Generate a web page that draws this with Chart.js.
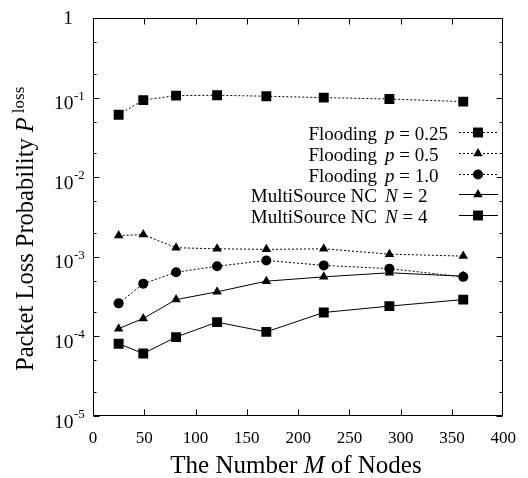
<!DOCTYPE html>
<html lang="en">
<head>
    <meta charset="UTF-8">
    <title>Packet Loss Probability</title>
    <style>
        body {
            margin: 0;
            background-color: #ffffff;
        }

        #lossChart {
            display: block;
        }
    </style>
</head>
<body>
    <canvas id="lossChart" width="528" height="478"></canvas>

    <script src="https://cdn.jsdelivr.net/npm/chart.js"></script>
    <script>
        // values
        const nodeCounts = [25, 49, 81, 121, 169, 225, 289, 361];
        const floodP025 = [0.061, 0.093, 0.106, 0.107, 0.104, 0.100, 0.096, 0.089];
        const floodP05 = [0.00185, 0.0019, 0.0013, 0.00126, 0.00124, 0.00126, 0.00108, 0.00102];
        const floodP10 = [0.00026, 0.00046, 0.00064, 0.00076, 0.0009, 0.00078, 0.00071, 0.00056];
        const multiN2 = [0.000125, 0.000168, 0.00029, 0.000363, 0.000494, 0.00056, 0.00063, 0.00057];
        const multiN4 = [0.000081, 0.000061, 0.000098, 0.000151, 0.000114, 0.0002, 0.00024, 0.00029];

        const seriesNames = ['Flooding', 'Flooding', 'Flooding', 'MultiSource NC', 'MultiSource NC'];
        const seriesSymbols = ['p', 'p', 'p', 'N', 'N'];
        const seriesParams = ['0.25', '0.5', '1.0', '2', '4'];

        const yExponents = [-5, -4, -3, -2, -1, 0];
        const yMinorFactors = [2, 5];

        const FONT = "'Liberation Serif', 'Times New Roman', serif";

        function toPoints(values) {
            return nodeCounts.map((n, i) => ({ x: n, y: values[i] }));
        }

        function makeDataset(values, style, radius, dashed) {
            return {
                data: toPoints(values),
                borderColor: '#000',
                backgroundColor: '#000',
                borderWidth: 1,
                borderDash: dashed ? [2, 2] : [],
                pointStyle: style,
                pointRadius: radius,
                pointBackgroundColor: '#000',
                pointBorderColor: '#000',
                pointBorderWidth: 0,
                tension: 0,
                fill: false
            };
        }

        const datasets = [
            makeDataset(floodP025, 'rect', 7, true),
            makeDataset(floodP05, 'triangle', 5.5, true),
            makeDataset(floodP10, 'circle', 5, true),
            makeDataset(multiN2, 'triangle', 5.5, false),
            makeDataset(multiN4, 'rect', 7, false)
        ];

        // frame, inward ticks, y labels with exponents, titles and the key
        const decorPlugin = {
            id: 'decor',
            afterDraw(chart) {
                const ctx = chart.ctx;
                const area = chart.chartArea;
                const xs = chart.scales.x;
                const ys = chart.scales.y;
                const L = Math.round(area.left) + 0.5;
                const R = Math.round(area.right) - 0.5;
                const T = Math.round(area.top) + 0.5;
                const B = Math.round(area.bottom) - 0.5;

                ctx.save();
                ctx.strokeStyle = '#000';
                ctx.lineWidth = 1;
                ctx.setLineDash([]);
                ctx.strokeRect(L, T, R - L, B - T);

                ctx.beginPath();
                xs.ticks.forEach(t => {
                    const x = Math.round(xs.getPixelForValue(t.value)) + 0.5;
                    if (x <= L + 1 || x >= R - 1) return;
                    ctx.moveTo(x, B); ctx.lineTo(x, B - 6);
                    ctx.moveTo(x, T); ctx.lineTo(x, T + 6);
                });
                yExponents.forEach(e => {
                    const y = Math.round(ys.getPixelForValue(Math.pow(10, e))) + 0.5;
                    ctx.moveTo(L, y); ctx.lineTo(L + 6, y);
                    ctx.moveTo(R, y); ctx.lineTo(R - 6, y);
                    if (e < 0) {
                        yMinorFactors.forEach(f => {
                            const ym = Math.round(ys.getPixelForValue(f * Math.pow(10, e))) + 0.5;
                            ctx.moveTo(L, ym); ctx.lineTo(L + 3, ym);
                            ctx.moveTo(R, ym); ctx.lineTo(R - 3, ym);
                        });
                    }
                });
                ctx.stroke();

                // y tick labels
                ctx.fillStyle = '#000';
                ctx.textBaseline = 'alphabetic';
                yExponents.forEach(e => {
                    const y = ys.getPixelForValue(Math.pow(10, e));
                    ctx.font = '19.5px ' + FONT;
                    ctx.textAlign = 'right';
                    if (e === 0) {
                        ctx.fillText('1', 73, y + 6);
                        return;
                    }
                    ctx.fillText('10', 73.5, y + 11.5);
                    ctx.font = '13px ' + FONT;
                    ctx.textAlign = 'left';
                    ctx.fillText(String(e), 74, y + 2);
                });

                // y axis title, rotated
                ctx.save();
                ctx.translate(33, 371);
                ctx.rotate(-Math.PI / 2);
                ctx.textAlign = 'left';
                ctx.textBaseline = 'alphabetic';
                ctx.font = '24.5px ' + FONT;
                const mainTitle = 'Packet Loss Probability ';
                ctx.fillText(mainTitle, 0, 0);
                const w1 = ctx.measureText(mainTitle).width;
                ctx.font = 'italic 24.5px ' + FONT;
                ctx.fillText('P', w1, 0);
                const wP = ctx.measureText('P').width;
                ctx.font = '17px ' + FONT;
                ctx.fillText('loss', w1 + wP + 4, -9);
                ctx.restore();

                // x axis title
                ctx.font = '25px ' + FONT;
                const partA = 'The Number ';
                const partC = ' of Nodes';
                const wA = ctx.measureText(partA).width;
                const wC = ctx.measureText(partC).width;
                ctx.font = 'italic 25px ' + FONT;
                const wM = ctx.measureText('M').width;
                let tx = 296 - (wA + wM + wC) / 2;
                ctx.textAlign = 'left';
                ctx.font = '25px ' + FONT;
                ctx.fillText(partA, tx, 473);
                ctx.font = 'italic 25px ' + FONT;
                ctx.fillText('M', tx + wA, 473);
                ctx.font = '25px ' + FONT;
                ctx.fillText(partC, tx + wA + wM, 473);

                // key
                chart.data.datasets.forEach((ds, i) => {
                    const base = 140 + i * 20.8;
                    ctx.font = '19px ' + FONT;
                    ctx.textAlign = 'right';
                    ctx.fillStyle = '#000';
                    ctx.fillText(seriesNames[i], 377, base);
                    ctx.textAlign = 'left';
                    ctx.font = 'italic 19px ' + FONT;
                    ctx.fillText(seriesSymbols[i], 385, base);
                    const ws = ctx.measureText(seriesSymbols[i]).width;
                    ctx.font = '19px ' + FONT;
                    ctx.fillText(' = ' + seriesParams[i], 385 + ws, base);

                    const ly = Math.round(base - 8) + 0.5;
                    ctx.beginPath();
                    ctx.setLineDash(ds.borderDash);
                    ctx.moveTo(459, ly);
                    ctx.lineTo(498, ly);
                    ctx.stroke();
                    ctx.setLineDash([]);
                    Chart.helpers.drawPoint(ctx, {
                        pointStyle: ds.pointStyle,
                        radius: ds.pointRadius,
                        rotation: 0,
                        borderWidth: 0
                    }, 478, ly);
                });

                ctx.restore();
            }
        };

        const lossChart = new Chart(document.getElementById('lossChart').getContext('2d'), {
            type: 'line',
            data: { datasets: datasets },
            plugins: [decorPlugin],
            options: {
                responsive: false,
                animation: false,
                devicePixelRatio: 1,
                layout: {
                    padding: { left: 93, right: 23, top: 18, bottom: 0 }
                },
                plugins: {
                    legend: { display: false },
                    tooltip: { enabled: false }
                },
                scales: {
                    x: {
                        type: 'linear',
                        min: 0,
                        max: 400,
                        afterFit: scale => { scale.height = 62; },
                        grid: { display: false, drawTicks: false },
                        border: { display: false },
                        ticks: {
                            stepSize: 50,
                            autoSkip: false,
                            maxRotation: 0,
                            padding: 12,
                            color: '#000',
                            font: { family: FONT, size: 17 }
                        }
                    },
                    y: {
                        type: 'logarithmic',
                        display: false,
                        min: 1e-5,
                        max: 1
                    }
                }
            }
        });
    </script>
</body>
</html>
